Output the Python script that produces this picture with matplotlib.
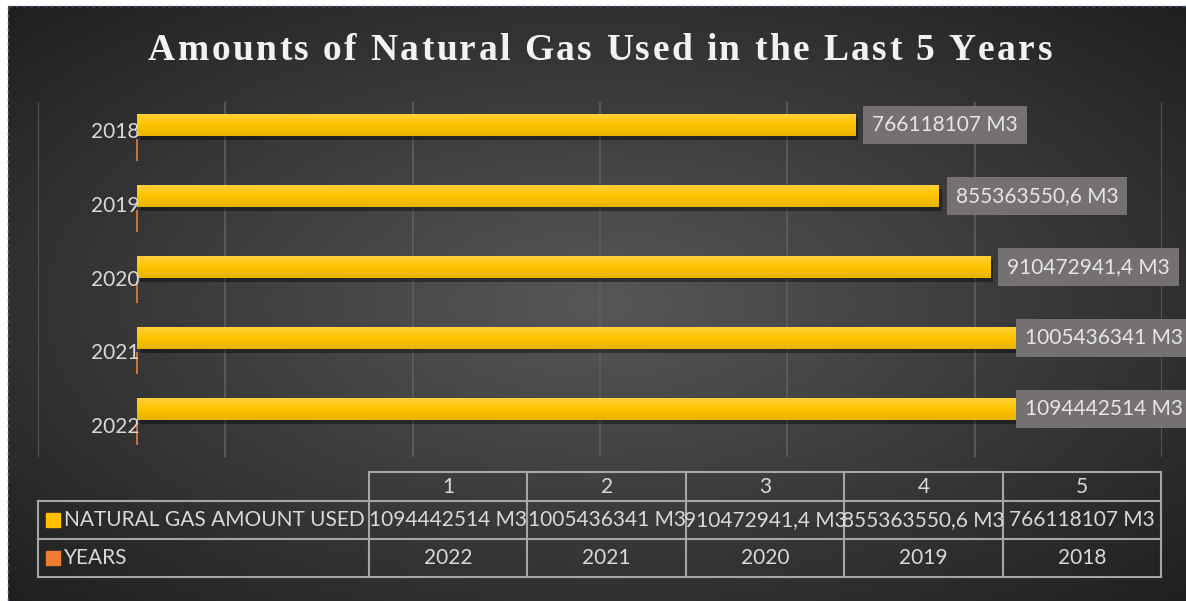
import numpy as np
import matplotlib
matplotlib.use("Agg")
from matplotlib import pyplot as plt
from matplotlib import patheffects
from matplotlib.colors import LinearSegmentedColormap
from matplotlib.font_manager import FontProperties, findfont
from matplotlib.ft2font import FT2Font
from matplotlib.lines import Line2D
from matplotlib.patches import Rectangle
from matplotlib.transforms import IdentityTransform

# data
years = ["2018", "2019", "2020", "2021", "2022"]
gas_used = [766118107, 855363550.6, 910472941.4, 1005436341, 1094442514]
gas_labels = ["766118107 M3", "855363550,6 M3", "910472941,4 M3", "1005436341 M3", "1094442514 M3"]
year_values = [2018, 2019, 2020, 2021, 2022]

table_cols = ["1", "2", "3", "4", "5"]
table_gas = ["1094442514 M3", "1005436341 M3", "910472941,4 M3", "855363550,6 M3", "766118107 M3"]
table_years = ["2022", "2021", "2020", "2019", "2018"]
series_names = ["NATURAL GAS AMOUNT USED", "YEARS"]

title = "Amounts of Natural Gas Used in the Last 5 Years"

W, H = 1186, 601
TXT = "#d9d9d9"
FONT = "Lato"
FS = 15

fig = plt.figure(figsize=(W / 100, H / 100), dpi=100)
fig.patch.set_facecolor("white")


def px_rect(x0, y0, x1, y1):
    # pixel box measured from top-left -> figure fraction
    return [x0 / W, 1 - y1 / H, (x1 - x0) / W, (y1 - y0) / H]


# background with radial gradient
bg = fig.add_axes(px_rect(8, 6, W, H))
bw, bh = W - 8, H - 6
yy, xx = np.mgrid[0:bh, 0:bw]
r = np.hypot((xx - bw * 0.5) / (bw * 0.5), (yy - bh * 0.5) / (bh * 0.5)) / np.sqrt(2)
cmap = LinearSegmentedColormap.from_list("bg", ["#575757", "#1f1f1f"])
bg.imshow(np.clip(r, 0, 1), cmap=cmap, vmin=0, vmax=1, aspect="auto", interpolation="bilinear")
bg.axis("off")
fig.add_artist(Line2D([8 / W, 1], [1 - 6 / H, 1 - 6 / H], color="#44546a", lw=1, ls=(0, (3, 2))))
fig.add_artist(Line2D([8 / W, 8 / W], [0, 1 - 6 / H], color="#44546a", lw=1, ls=(0, (3, 2))))

# main bar chart
ax = fig.add_axes(px_rect(38, 102, 1162, 457))
ax.set_facecolor("none")
xlim = (-0.1056e9, 1.0933e9)
pos = np.arange(len(years))

gas_bars = ax.barh(pos - 0.18, gas_used, height=0.31, color="#ffc000", zorder=3,
                   path_effects=[patheffects.SimplePatchShadow(offset=(2, -3), alpha=0.4, shadow_rgbFace="black"),
                                 patheffects.Normal()])
grad = np.linspace(0, 1, 64).reshape(-1, 1)
ycmap = LinearSegmentedColormap.from_list("yel", ["#ffd140", "#ffc400", "#e8b400"])
for bar in gas_bars:
    x0, y0 = bar.get_x(), bar.get_y()
    im = ax.imshow(grad, cmap=ycmap, aspect="auto", extent=[x0, x0 + bar.get_width(), y0 + bar.get_height(), y0],
                   zorder=3.5, interpolation="bilinear")
    im.set_clip_path(bar)

ax.barh(pos + 0.18, year_values, height=0.31, color="#ed7d31", edgecolor="#ed7d31", lw=1.2, zorder=3)

ax.set_xlim(*xlim)
ax.set_ylim(len(years) - 0.5, -0.5)
ax.set_xticks(np.linspace(xlim[0], xlim[1], 7))
ax.set_xticklabels([])
ax.set_yticks([])
ax.tick_params(length=0)
ax.grid(axis="x", color="#5e5e5e", lw=1.2, zorder=0)
for s in ax.spines.values():
    s.set_visible(False)

for i, y in enumerate(years):
    ax.annotate(y, xy=(0, pos[i] - 0.08 + 0.04 * i), xytext=(2, 0), textcoords="offset points",
                ha="right", va="center", color=TXT, fontsize=FS, family=FONT, zorder=4)

labels = []
for i, lab in enumerate(gas_labels):
    t = ax.annotate(lab, xy=(gas_used[i], pos[i] - 0.18), xytext=(12, 0), textcoords="offset points",
                    ha="left", va="center", color="#e6e6e6", fontsize=FS, family=FONT, zorder=6,
                    annotation_clip=False)
    labels.append(t)

fig.canvas.draw()
renderer = fig.canvas.get_renderer()
for t in labels:
    ext = t.get_window_extent(renderer)
    if ext.x1 > W - 3:
        t.set_position((12 + (W - 3 - ext.x1) * 72 / 100, 0))
fig.canvas.draw()
for t in labels:
    ext = t.get_window_extent(renderer)
    yc = (ext.y0 + ext.y1) / 2
    ax.add_patch(Rectangle((ext.x0 - 9, yc - 19), ext.width + 18, 38, transform=IdentityTransform(),
                           fc="#767171", ec="none", zorder=5, clip_on=False))

# data table
tax = fig.add_axes(px_rect(38, 472, 1161, 578))
tax.set_xlim(38, 1161)
tax.set_ylim(578, 472)
tax.axis("off")
col_edges = np.linspace(369, 1161, len(table_cols) + 1)
row_edges = [472, 501, 539, 577]
lc, lw = "#a6a6a6", 1.5
tax.plot([col_edges[0], col_edges[-1]], [row_edges[0]] * 2, color=lc, lw=lw, clip_on=False)
for y in row_edges[1:]:
    tax.plot([38, col_edges[-1]], [y, y], color=lc, lw=lw, clip_on=False)
for x in col_edges:
    tax.plot([x, x], [row_edges[0], row_edges[-1]], color=lc, lw=lw, clip_on=False)
tax.plot([38, 38], [row_edges[1], row_edges[-1]], color=lc, lw=lw, clip_on=False)

centers = (col_edges[:-1] + col_edges[1:]) / 2
for j in range(len(table_cols)):
    tax.text(centers[j], 487, table_cols[j], ha="center", va="center", color=TXT, fontsize=FS, family=FONT)
    tax.text(centers[j], 520, table_gas[j], ha="center", va="center", color=TXT, fontsize=FS, family=FONT)
    tax.text(centers[j], 558, table_years[j], ha="center", va="center", color=TXT, fontsize=FS, family=FONT)

key_colors = ["#ffc000", "#ed7d31"]
for k, (name, yc) in enumerate(zip(series_names, [520, 558])):
    tax.add_patch(Rectangle((46, yc - 7), 14, 14, color=key_colors[k], clip_on=False))
    tax.text(64, yc, name, ha="left", va="center", color=TXT, fontsize=FS, family=FONT)

# title with letter spacing
TFS = 27
fp = FontProperties(family="Liberation Serif", weight="bold", size=TFS)
ft = FT2Font(findfont(fp))
ft.set_size(TFS, 100)
adv = [ft.load_char(ord(c)).linearHoriAdvance / 65536 for c in title]
track = max(0.0, (904 - sum(adv)) / (len(title) - 1))
x = 148.0
for c, a in zip(title, adv):
    fig.text(x / W, 1 - 60 / H, c, ha="left", va="baseline", color="#f2f2f2",
             fontproperties=fp)
    x += a + track

fig.savefig("out.png", dpi=100, facecolor=fig.get_facecolor())
